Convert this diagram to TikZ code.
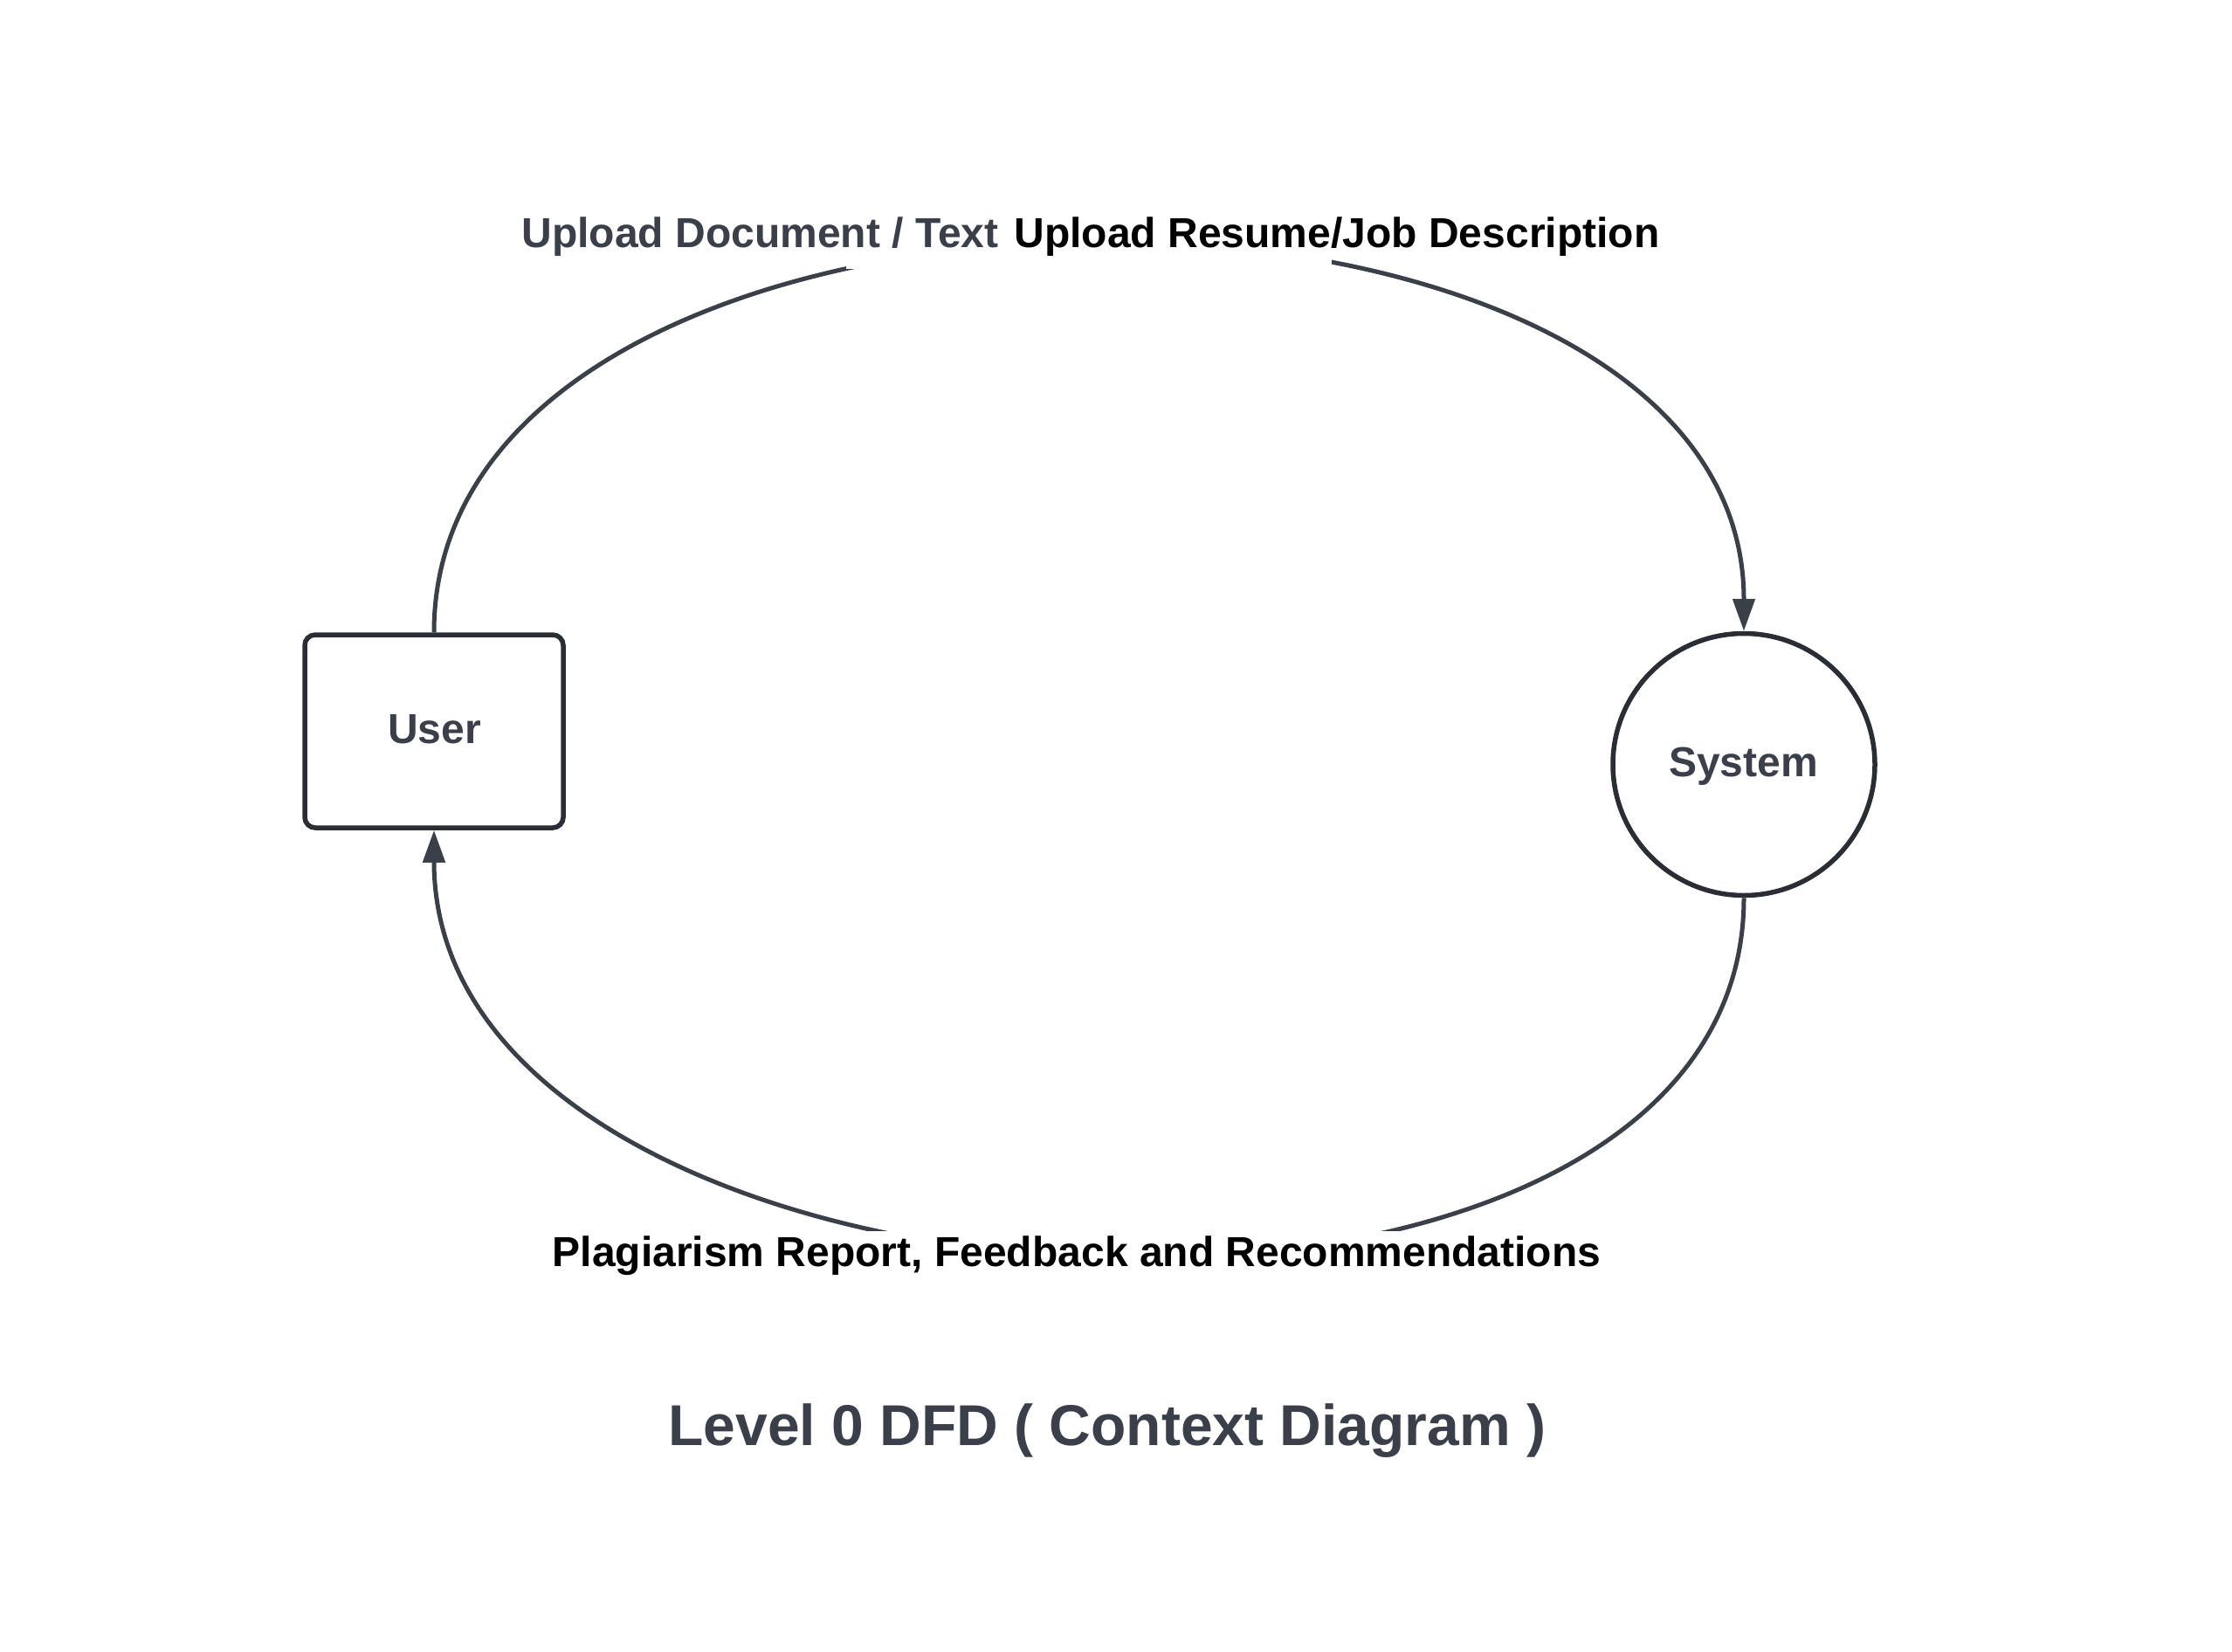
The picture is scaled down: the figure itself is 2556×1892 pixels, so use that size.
\documentclass[tikz,border=0pt]{standalone}
\usepackage{fontspec}
\setmainfont{Liberation Sans}
\usetikzlibrary{arrows.meta}
\definecolor{edgecol}{HTML}{3A3F48}
\definecolor{shapecol}{HTML}{2A2D33}
\definecolor{txtgray}{HTML}{3A3F4A}
\begin{document}
\begin{tikzpicture}[x=1pt,y=-1pt,
  shapebox/.style={draw=shapecol, line width=5.5pt, rounded corners=12pt,
    minimum width=296pt, minimum height=221pt, inner sep=0pt, fill=white},
  procircle/.style={circle, draw=shapecol, line width=5.5pt,
    minimum size=300pt, inner sep=0pt, fill=white},
  flow/.style={draw=edgecol, line width=5pt,
    -{Triangle[length=37pt,width=25pt]}},
  maskbox/.style={fill=white, draw=none, inner sep=0pt},
  nodetxt/.style={inner sep=0pt, anchor=base, text=txtgray,
    font=\fontsize{48pt}{58pt}\selectfont\bfseries},
  flowlbl/.style={inner sep=0pt, anchor=base,
    font=\fontsize{48pt}{58pt}\selectfont\bfseries},
  titletxt/.style={inner sep=0pt, anchor=base, text=txtgray,
    font=\fontsize{66pt}{78pt}\selectfont\bfseries}
]
\fill[white] (0,0) rectangle (2556,1892);
\useasboundingbox (0,0) rectangle (2556,1892);

% entities
\node[shapebox] (user) at (497,837.5) {};
\node[procircle] (system) at (1997,875.5) {};
\node[nodetxt] (usertxt) at (497.5,851) {User};
\node[nodetxt] (systemtxt) at (1996.5,889) {System};

% flows
\draw[flow] (user.north) .. controls +(0,-590) and +(0,-590) .. (system.north);
\draw[flow] (system.south) .. controls +(0,595) and +(0,595) .. (user.south);

% label backgrounds on the flows
\node[maskbox, minimum width=556pt, minimum height=40pt] (topmask) at (1247,288) {};
\node[maskbox, minimum width=640pt, minimum height=40pt] (botmask) at (1300,1430) {};

% flow labels
\node[flowlbl, text=txtgray] (lblA) at (870.5,283) {Upload Document / Text};
\node[flowlbl, text=black] (lblB) at (1531,283) {Upload Resume/Job Description};
\node[flowlbl, text=black] (lblC) at (1233,1450) {Plagiarism Report, Feedback and Recommendations};

% title
\node[titletxt] (title) at (1268,1655) {Level 0 DFD ( Context Diagram )};
\end{tikzpicture}
\end{document}
